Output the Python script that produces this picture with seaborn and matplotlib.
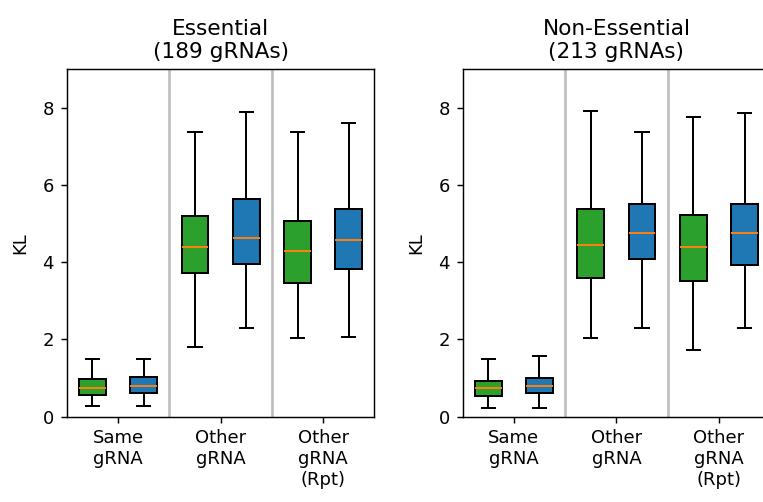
import numpy as np
import pandas as pd
import matplotlib
matplotlib.use("Agg")
import matplotlib.pyplot as plt
import seaborn as sns

# x-axis categories and the two compared groups
categories = ["Same\ngRNA", "Other\ngRNA", "Other\ngRNA\n(Rpt)"]
groups = ["Group 1", "Group 2"]
group_colors = ["#2ca02c", "#1f77b4"]

# Five-number summaries per category: [min, q1, median, q3, max]
essential_g1 = [[0.26, 0.56, 0.74, 0.97, 1.50],
                [1.80, 3.72, 4.39, 5.19, 7.37],
                [2.03, 3.45, 4.28, 5.06, 7.37]]
essential_g2 = [[0.26, 0.62, 0.79, 1.02, 1.50],
                [2.30, 3.94, 4.62, 5.63, 7.88],
                [2.07, 3.82, 4.57, 5.37, 7.59]]
nonessential_g1 = [[0.22, 0.52, 0.74, 0.93, 1.50],
                   [2.03, 3.59, 4.43, 5.37, 7.91],
                   [1.73, 3.52, 4.39, 5.21, 7.77]]
nonessential_g2 = [[0.22, 0.60, 0.79, 1.01, 1.58],
                   [2.30, 4.08, 4.76, 5.51, 7.37],
                   [2.30, 3.93, 4.76, 5.51, 7.85]]

panel_titles = ["Essential\n(189 gRNAs)", "Non-Essential\n(213 gRNAs)"]
panel_data = [(essential_g1, essential_g2), (nonessential_g1, nonessential_g2)]
y_ticks = [0, 2, 4, 6, 8]


def long_table(g1, g2):
    rows = []
    for group, summaries in zip(groups, (g1, g2)):
        for cat, five in zip(categories, summaries):
            # five points reproduce min/quartiles/median/max exactly
            for v in five:
                rows.append({"category": cat, "group": group, "KL": v})
    return pd.DataFrame(rows)


DPI = 130
fig = plt.figure(figsize=(763 / DPI, 502 / DPI), dpi=DPI)
axes = [fig.add_axes([0.0874, 0.1703, 0.4034, 0.6922]),
        fig.add_axes([0.6062, 0.1703, 0.4034, 0.6922])]

for ax, title, (g1, g2) in zip(axes, panel_titles, panel_data):
    df = long_table(g1, g2)
    sns.boxplot(data=df, x="category", y="KL", hue="group",
                order=categories, hue_order=groups, palette=group_colors,
                whis=(0, 100), width=1.0, gap=0.48, linecolor="black",
                linewidth=1.1, saturation=1.0, legend=False,
                medianprops={"color": "#ff7f0e"}, ax=ax)
    for xs in (0.5, 1.5):
        ax.axvline(xs, color="0.75", lw=1.5, zorder=0)
    ax.set_xlim(-0.5, 2.5)
    ax.set_ylim(0, 9)
    ax.set_yticks(y_ticks)
    ax.set_xlabel("")
    ax.set_ylabel("KL", labelpad=7.5)
    ax.set_title(title)

fig.savefig("out.png", dpi=DPI)
